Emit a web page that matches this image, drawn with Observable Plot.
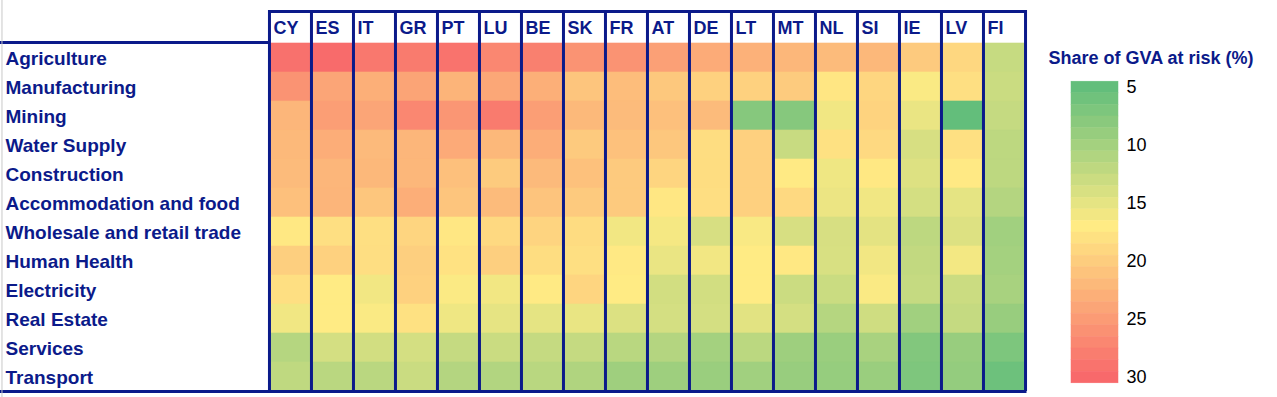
<!DOCTYPE html>
<html>
<head>
<meta charset="utf-8">
<script src="https://cdn.jsdelivr.net/npm/d3@7"></script>
<script src="https://cdn.jsdelivr.net/npm/@observablehq/plot@0.6"></script>
<style>
  html, body { margin: 0; padding: 0; background: #fff; }
  #wrap { position: relative; width: 1277px; height: 397px; overflow: hidden; }
  #wrap > svg, #wrap > figure { position: absolute; top: 0; margin: 0; }
</style>
</head>
<body>
<div id="wrap"></div>
<script>
const countries = ["CY","ES","IT","GR","PT","LU","BE","SK","FR","AT","DE","LT","MT","NL","SI","IE","LV","FI"];
const sectors = ["Agriculture","Manufacturing","Mining","Water Supply","Construction","Accommodation and food","Wholesale and retail trade","Human Health","Electricity","Real Estate","Services","Transport"];

// Share of GVA at risk (%), one array per sector, in the order of `countries`
const agriculture   = [29.2, 29.8, 28.5, 28.2, 29.0, 27.0, 27.7, 25.8, 25.8, 24.5, 23.4, 22.8, 22.2, 21.8, 22.1, 20.3, 19.0, 12.6];
const manufacturing = [25.8, 24.0, 23.0, 24.1, 22.5, 23.8, 23.0, 20.8, 21.6, 20.5, 19.6, 19.6, 20.2, 17.5, 19.1, 16.6, 18.2, 12.9];
const mining        = [22.3, 24.7, 24.0, 27.0, 25.5, 28.2, 24.7, 22.0, 21.8, 21.3, 21.8, 7.7, 7.7, 15.9, 19.4, 15.4, 5.0, 12.5];
const waterSupply   = [22.0, 23.2, 21.9, 22.3, 23.5, 22.1, 23.2, 20.3, 21.2, 20.6, 18.4, 19.7, 12.8, 18.0, 18.8, 13.9, 18.1, 11.9];
const construction  = [21.8, 22.3, 22.1, 22.2, 21.3, 20.2, 21.9, 21.2, 20.3, 19.2, 18.4, 19.7, 17.1, 15.8, 17.3, 14.4, 17.2, 11.9];
const accommodation = [21.3, 22.4, 20.7, 23.1, 20.8, 21.8, 20.9, 20.3, 20.3, 17.4, 18.3, 19.7, 18.8, 15.5, 15.9, 13.7, 15.0, 11.2];
const wholesale     = [17.3, 18.2, 18.2, 19.2, 17.4, 18.8, 19.3, 18.5, 16.0, 16.2, 13.9, 16.5, 13.9, 13.9, 14.9, 11.9, 14.4, 9.8];
const humanHealth   = [19.8, 19.6, 18.3, 19.8, 17.9, 19.8, 18.4, 18.2, 17.2, 15.4, 16.0, 17.0, 17.3, 14.0, 16.0, 12.3, 16.1, 10.0];
const electricity   = [18.2, 17.0, 16.0, 19.6, 16.7, 16.0, 17.1, 19.2, 17.0, 13.5, 13.5, 17.0, 13.0, 12.9, 16.6, 12.5, 13.0, 10.3];
const realEstate    = [15.9, 17.0, 16.6, 18.0, 15.8, 15.1, 15.0, 15.3, 14.3, 13.7, 13.7, 14.8, 13.7, 11.3, 13.3, 9.8, 12.5, 9.1];
const services      = [11.3, 13.7, 13.5, 13.7, 12.5, 12.9, 12.5, 12.5, 11.6, 11.2, 10.0, 11.8, 9.5, 9.2, 10.4, 7.4, 9.1, 7.0];
const transport     = [12.1, 11.7, 11.7, 12.9, 11.2, 11.1, 11.6, 10.9, 9.6, 9.5, 9.2, 9.8, 9.1, 8.9, 9.2, 7.1, 8.8, 5.8];

const legendTicks = [5, 10, 15, 20, 25, 30];
const legendTitle = "Share of GVA at risk (%)";

const rows = [agriculture, manufacturing, mining, waterSupply, construction, accommodation,
              wholesale, humanHealth, electricity, realEstate, services, transport];
const table = [];
sectors.forEach((s, i) => countries.forEach((c, j) => table.push({sector: s, country: c, value: rows[i][j]})));

const NAVY = "#0b1a8a";
const FONT = "'Liberation Sans', Arial, sans-serif";
const colorScale = {type: "linear", domain: [30, 17, 5], range: ["#F8696B", "#FFEB84", "#63BE7B"], interpolate: "rgb"};

const W = 1040, H = 397, ML = 268, MR = 15, MT = 43, MB = 6;
const bw = (W - ML - MR) / countries.length;
const bh = (H - MT - MB) / sectors.length;

const heat = Plot.plot({
  width: W, height: H,
  marginLeft: ML, marginRight: MR, marginTop: MT, marginBottom: MB,
  style: {fontFamily: FONT, background: "transparent", overflow: "visible"},
  x: {domain: countries, padding: 0, axis: null},
  y: {domain: sectors, padding: 0, axis: null},
  color: colorScale,
  marks: [
    Plot.cell(table, {x: "country", y: "sector", fill: "value", inset: 0, stroke: "value", strokeWidth: 0.6}),
    // header labels
    Plot.text(countries, {x: d => d, frameAnchor: "top", lineAnchor: "middle", textAnchor: "start", dx: -bw / 2 + 4, dy: -15,
      fontSize: 18, fontWeight: "bold", fill: NAVY}),
    // row labels
    Plot.text(sectors, {y: d => d, frameAnchor: "left", textAnchor: "start", dx: -ML + 5, dy: 1,
      fontSize: 19, fontWeight: "bold", fill: NAVY}),
    // vertical grid lines
    Plot.ruleX(countries, {x: d => d, dx: -bw / 2, insetTop: -33, stroke: NAVY, strokeWidth: 3}),
    Plot.ruleX([countries[countries.length - 1]], {x: d => d, dx: bw / 2, insetTop: -33, stroke: NAVY, strokeWidth: 3}),
    // top of header
    Plot.ruleY([sectors[0]], {y: d => d, dy: -bh / 2 - 32, stroke: NAVY, strokeWidth: 3, insetRight: -1.5}),
    // line under the left header region
    Plot.ruleY([sectors[0]], {y: d => d, dy: -bh / 2 - 1, stroke: NAVY, strokeWidth: 3, insetLeft: -ML, insetRight: W - ML - MR}),
    // bottom line
    Plot.ruleY([sectors[sectors.length - 1]], {y: d => d, dy: bh / 2, stroke: NAVY, strokeWidth: 3, insetLeft: -ML, insetRight: -1.5}),
    // thin left edge
    Plot.ruleX([countries[0]], {x: d => d, dx: -ML - bw / 2 + 0.5, insetTop: -MT, insetBottom: -MB, stroke: "#c8c8c8", strokeWidth: 1})
  ]
});
heat.style.left = "0px";

// Legend: banded colour bar
const bands = d3.range(5, 31);
const LW = 237, LML = 31, LMR = LW - 78, LMT = 87, LMB = H - 377;
const legend = Plot.plot({
  width: LW, height: H,
  marginLeft: LML, marginRight: LMR, marginTop: LMT, marginBottom: LMB,
  style: {fontFamily: FONT, background: "transparent", overflow: "visible"},
  x: {axis: null},
  y: {domain: [5, 30], reverse: true, axis: null},
  color: colorScale,
  marks: [
    Plot.rect(bands, {y1: d => d - 0.5, y2: d => d + 0.5, fill: d => d, stroke: d => d, strokeWidth: 0.5}),
    Plot.axisY(legendTicks, {anchor: "right", tickSize: 0, tickPadding: 8, fontSize: 18, color: "#000", tickFormat: d => d}),
    Plot.text([legendTitle], {frameAnchor: "top-left", lineAnchor: "middle", textAnchor: "start", dx: -23, dy: -29,
      fontSize: 18, fontWeight: "bold", fill: NAVY})
  ]
});
legend.style.left = "1040px";

const wrap = document.getElementById("wrap");
wrap.appendChild(heat);
wrap.appendChild(legend);
</script>
</body>
</html>
